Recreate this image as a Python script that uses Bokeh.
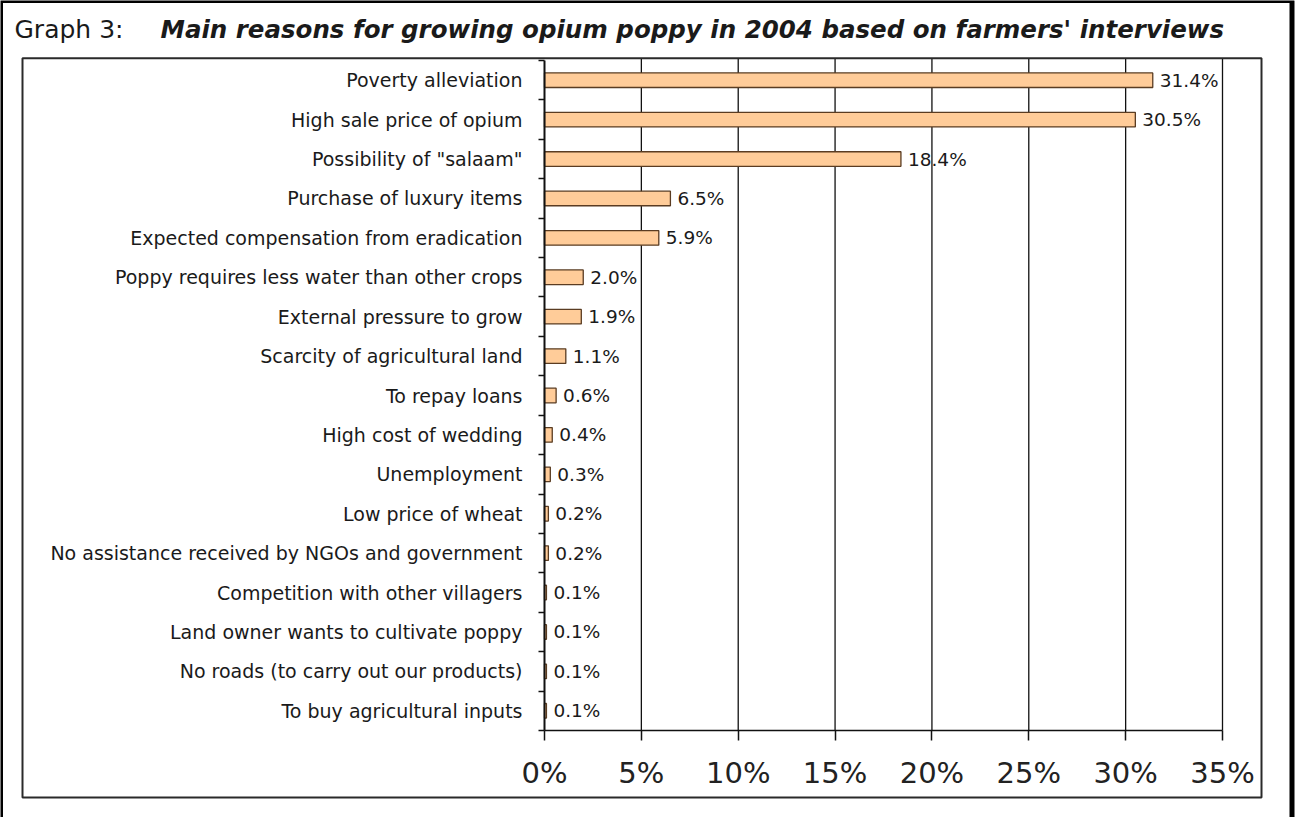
from bokeh.plotting import figure
from bokeh.models import Range1d, LinearAxis, FixedTicker, BoxAnnotation, Label
from bokeh.core.properties import value
from bokeh.embed import file_html
from bokeh.resources import INLINE

# ---------------- data ----------------
categories = [
    "Poverty alleviation",
    "High sale price of opium",
    "Possibility of \"salaam\"",
    "Purchase of luxury items",
    "Expected compensation from eradication",
    "Poppy requires less water than other crops",
    "External pressure to grow",
    "Scarcity of agricultural land",
    "To repay loans",
    "High cost of wedding",
    "Unemployment",
    "Low price of wheat",
    "No assistance received by NGOs and government",
    "Competition with other villagers",
    "Land owner wants to cultivate poppy",
    "No roads (to carry out our products)",
    "To buy agricultural inputs",
]
shares = [31.4, 30.5, 18.4, 6.5, 5.9, 2.0, 1.9, 1.1, 0.6, 0.4, 0.3, 0.2, 0.2, 0.1, 0.1, 0.1, 0.1]
x_ticks = [0, 5, 10, 15, 20, 25, 30, 35]
x_tick_labels = ["0%", "5%", "10%", "15%", "20%", "25%", "30%", "35%"]
title_prefix = "Graph 3:"
title_main = "Main reasons for growing opium poppy in 2004 based on farmers' interviews"

# ---------------- layout (canvas pixels) ----------------
W, H = 1295, 817
FONT = "DejaVu Sans"
TXT = "#1a1a1a"
X0_PX, XMAX_PX = 544, 1222
Y_TOP_PX, Y_BOT_PX = 60, 730
n = len(categories)
xppu = (XMAX_PX - X0_PX) / (x_ticks[-1] - x_ticks[0])
yppu = (Y_BOT_PX - Y_TOP_PX) / n
top_val = n - 0.5


def px2x(cx):
    return x_ticks[0] + (cx - X0_PX) / xppu


def px2y(cy):
    return top_val - (cy - Y_TOP_PX) / yppu


ys = [n - 1 - i for i in range(n)]
bar_labels = [f"{v:.1f}%" for v in shares]

p = figure(
    width=W, height=H,
    x_range=Range1d(px2x(0), px2x(W)),
    y_range=Range1d(px2y(H), px2y(0)),
    output_backend="svg", toolbar_location=None,
    x_axis_location=None, y_axis_location=None,
    min_border=0, title=None,
)
p.center = []
p.outline_line_color = None
p.background_fill_color = "white"
p.border_fill_color = "white"

# vertical grid lines (from the tick list), from plot bottom up to the inner box top
gx = [t for t in x_ticks if t > x_ticks[0]]
p.segment(x0=gx, y0=[-0.5] * len(gx), x1=gx, y1=[px2y(57.7)] * len(gx),
          line_color="#111111", line_width=1.3)

# bars
p.hbar(y=ys, left=0, right=shares, height=0.37,
       fill_color="#FFCC99", line_color="#5a3c22", line_width=1.3)

# value labels
p.text(x=shares, y=ys, text=bar_labels, x_offset=7,
       text_baseline="middle", text_align="left",
       text_font=value(FONT), text_font_size="18.5px", text_color=TXT)

# x axis
xaxis = LinearAxis(
    fixed_location=-0.5,
    ticker=FixedTicker(ticks=x_ticks, minor_ticks=[]),
    major_label_overrides={t: l for t, l in zip(x_ticks, x_tick_labels)},
    bounds=(x_ticks[0], x_ticks[-1]),
    major_tick_out=10, major_tick_in=0,
    minor_tick_out=0, minor_tick_in=0,
    major_tick_line_color="#111111", major_tick_line_width=1.5,
    axis_line_color="#111111", axis_line_width=1.5,
    major_label_standoff=15,
    major_label_text_font=FONT, major_label_text_font_size="29px",
    major_label_text_color="#222222",
)
p.add_layout(xaxis, "below")

# y axis (category labels at centres, ticks at boundaries)
yaxis = LinearAxis(
    fixed_location=0,
    ticker=FixedTicker(ticks=ys, minor_ticks=[b - 0.5 for b in range(n + 1)]),
    major_label_overrides={y: c for y, c in zip(ys, categories)},
    bounds=(-0.5, n - 0.5),
    major_tick_out=0, major_tick_in=0, major_tick_line_color=None,
    minor_tick_out=6, minor_tick_in=0,
    minor_tick_line_color="#111111", minor_tick_line_width=1.5,
    axis_line_color="#111111", axis_line_width=2,
    major_label_standoff=16,
    major_label_text_font=FONT, major_label_text_font_size="19px",
    major_label_text_color=TXT,
)
p.add_layout(yaxis, "left")

# inner chart box
p.add_layout(BoxAnnotation(left=px2x(22), right=px2x(1261), top=px2y(57.7), bottom=px2y(797),
                           fill_color=None, fill_alpha=0, line_color="#2a2a2a",
                           line_alpha=1.0, line_width=2))
# outer frame
p.add_layout(BoxAnnotation(left=px2x(0), right=px2x(1291.5), top=px2y(0), bottom=px2y(H + 40),
                           fill_color=None, fill_alpha=0, line_color="#000000",
                           line_alpha=1.0, line_width=5))

# title
p.add_layout(Label(x=px2x(14), y=px2y(29), text=title_prefix, text_baseline="alphabetic",
                   text_font=FONT, text_font_size="25px", text_color=TXT))
p.add_layout(Label(x=px2x(160), y=px2y(29), text=title_main, text_baseline="alphabetic",
                   text_font=FONT, text_font_size="24.5px", text_font_style="bold italic",
                   text_color=TXT))

open("out.html", "w").write(file_html(p, INLINE))
